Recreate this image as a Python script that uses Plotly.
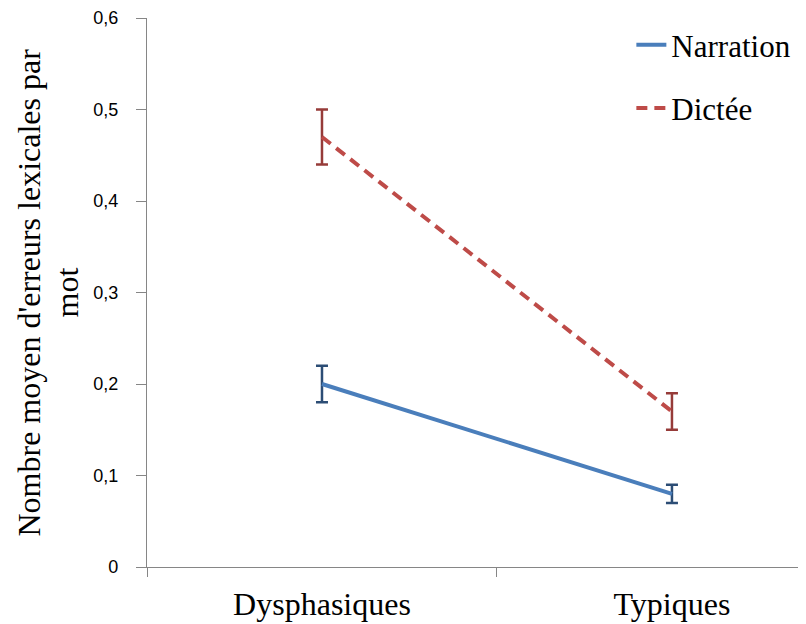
import plotly.graph_objects as go

categories = ["Dysphasiques", "Typiques"]
narration = [0.20, 0.08]
narration_err = [0.02, 0.01]
dictee = [0.47, 0.17]
dictee_err = [0.03, 0.02]
y_ticks = [0, 0.1, 0.2, 0.3, 0.4, 0.5, 0.6]
y_ticktext = ["0", "0,1", "0,2", "0,3", "0,4", "0,5", "0,6"]
y_title_lines = ["Nombre moyen d'erreurs lexicales par", "mot"]

xpos = list(range(len(categories)))

fig = go.Figure()
fig.add_trace(go.Scatter(
    x=xpos, y=narration, mode="lines", name="Narration",
    line=dict(color="#4A7EBB", width=4),
    error_y=dict(type="data", array=narration_err, visible=True,
                 color="#2C4D75", thickness=2.5, width=6),
    legendgroup="a",
))
fig.add_trace(go.Scatter(
    x=xpos, y=dictee, mode="lines", name="Dictée",
    line=dict(color="#BE4B48", width=4, dash="11px,7px"),
    error_y=dict(type="data", array=dictee_err, visible=True,
                 color="#963B39", thickness=2.5, width=6),
    legendgroup="b",
))

axis_color = "#868686"
title_font = dict(family="Liberation Serif", size=32, color="black")
annotations = []
for line_text, shift in zip(y_title_lines, [-119, -81]):
    annotations.append(dict(
        text=line_text, textangle=-90, showarrow=False,
        xref="paper", yref="paper", x=0, y=0.5,
        xanchor="center", yanchor="middle", xshift=shift,
        font=title_font,
    ))

fig.update_layout(
    width=798, height=616,
    margin=dict(l=139, r=0, t=10, b=57),
    paper_bgcolor="white", plot_bgcolor="white",
    showlegend=True,
    legend=dict(x=0.735, y=1.0, xanchor="left", yanchor="top",
                font=dict(family="Liberation Serif", size=31, color="black"),
                tracegroupgap=20, bgcolor="rgba(0,0,0,0)"),
    xaxis=dict(
        range=[-0.5, 1.383], tickmode="array", tickvals=xpos, ticktext=categories,
        ticks="", showgrid=False, zeroline=False, automargin=False,
        showline=True, linecolor=axis_color, linewidth=1.3,
        tickfont=dict(family="Liberation Serif", size=32, color="black"),
        ticklabelstandoff=8,
        minor=dict(tickmode="array", tickvals=[-0.5, 0.5, 1.5], ticks="outside",
                   ticklen=9, tickcolor=axis_color, tickwidth=1.3, showgrid=False),
    ),
    yaxis=dict(
        range=[0, 0.6], tickmode="array", tickvals=y_ticks, ticktext=y_ticktext,
        ticks="outside", ticklen=10, tickcolor=axis_color, tickwidth=1.3,
        showgrid=False, zeroline=False, automargin=False,
        showline=True, linecolor=axis_color, linewidth=1.3,
        tickfont=dict(family="Liberation Sans", size=18, color="black"),
        ticklabelstandoff=14,
    ),
    annotations=annotations,
)

fig.write_html("out.html")
